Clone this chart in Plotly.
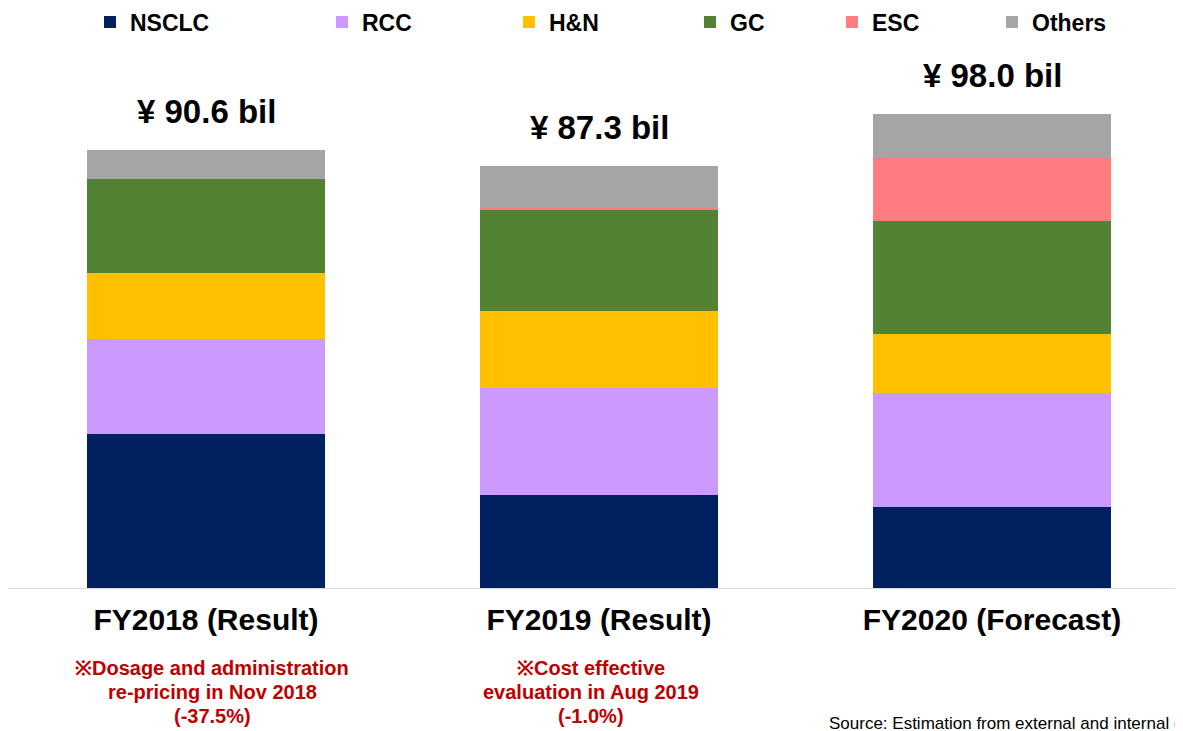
import plotly.graph_objects as go

categories = ["FY2018 (Result)", "FY2019 (Result)", "FY2020 (Forecast)"]
series_names = ["NSCLC", "RCC", "H&N", "GC", "ESC", "Others"]
nsclc = [31.9, 19.3, 16.8]
rcc = [19.6, 22.1, 23.6]
hn = [13.7, 16.0, 12.1]
gc = [19.5, 21.0, 23.4]
esc = [0.0, 0.3, 13.1]
others = [5.9, 8.6, 9.0]
totals = [90.6, 87.3, 98.0]
total_labels = ["¥ 90.6 bil", "¥ 87.3 bil", "¥ 98.0 bil"]
note_lines = [
    ["※Dosage and administration", "re-pricing in Nov 2018", "(-37.5%)"],
    ["※Cost effective", "evaluation in Aug 2019", "(-1.0%)"],
    [],
]
source_text = "Source: Estimation from external and internal data"

colors = ["#002060", "#CC99FF", "#FFC000", "#548235", "#FF7C80", "#A5A5A5"]
values = [nsclc, rcc, hn, gc, esc, others]

FONT = "Arial, Liberation Sans, sans-serif"
OFF = 8  # page body margin
W, H = 1183 - OFF, 731 - OFF
ML, MR = 0, 0
BASE = 588 - OFF
MT, MB = 60 - OFF, H - BASE
plot_w = W - ML - MR
plot_h = H - MT - MB


def py(page_y):
    return (BASE - (page_y - OFF)) / plot_h


def px(page_x):
    return (page_x - OFF - ML) / plot_w


legend_text_px = [130, 362, 549, 730, 872, 1032]

fig = go.Figure()
for i, (name, vals, col) in enumerate(zip(series_names, values, colors)):
    lg = "legend" if i == 0 else f"legend{i+1}"
    fig.add_trace(go.Bar(
        x=categories, y=vals, name=name,
        marker=dict(color=col, line=dict(width=0)),
        width=0.606,
        legend=lg,
        showlegend=True,
        hoverinfo="skip",
    ))

legend_layouts = {}
for i, tx in enumerate(legend_text_px):
    key = "legend" if i == 0 else f"legend{i+1}"
    legend_layouts[key] = dict(
        x=(tx - 40 - OFF) / W, xref="container", xanchor="left",
        y=1 - (22 - OFF) / H, yref="container", yanchor="middle",
        orientation="h",
        font=dict(family=FONT, size=23, color="#000000", weight="bold"),
        bgcolor="rgba(0,0,0,0)", borderwidth=0,
        visible=True,
    )

annotations = []
for c, t, lab in zip(categories, totals, total_labels):
    annotations.append(dict(
        x=c, y=t, xref="x", yref="y", text=f"<b>{lab}</b>",
        showarrow=False, yanchor="bottom", yshift=18,
        font=dict(family=FONT, size=33, color="#000000"),
    ))
note_shift = [6, -8, 0]
line_y = [668, 692, 716]
for c, lines, xs in zip(categories, note_lines, note_shift):
    for ln, ly in zip(lines, line_y):
        annotations.append(dict(
            x=c, y=py(ly), xref="x", yref="paper",
            text=f"<b>{ln}</b>", showarrow=False, yanchor="middle", xshift=xs,
            font=dict(family=FONT, size=20, color="#C00000"),
        ))
annotations.append(dict(
    x=px(827), y=py(723),
    xref="paper", yref="paper", text=source_text, showarrow=False,
    xanchor="left", yanchor="middle",
    font=dict(family=FONT, size=17, color="#000000"),
))

yr = plot_h / 4.832
cx0 = 206 - OFF
fig.update_layout(
    width=W, height=H,
    margin=dict(l=ML, r=MR, t=MT, b=MB, pad=0, autoexpand=False),
    barmode="stack",
    plot_bgcolor="white", paper_bgcolor="white",
    annotations=annotations,
    showlegend=True,
    **legend_layouts,
)
fig.update_xaxes(
    range=[-cx0 / 393, (W - cx0) / 393],
    showline=True, linecolor="#D9D9D9", linewidth=1,
    showgrid=False, zeroline=False,
    ticks="outside", ticklen=5, tickcolor="rgba(0,0,0,0)",
    tickfont=dict(family=FONT, size=30, color="#000000", weight="bold"),
)
fig.update_yaxes(range=[0, yr], visible=False, showgrid=False)

fig.write_html("out.html")
